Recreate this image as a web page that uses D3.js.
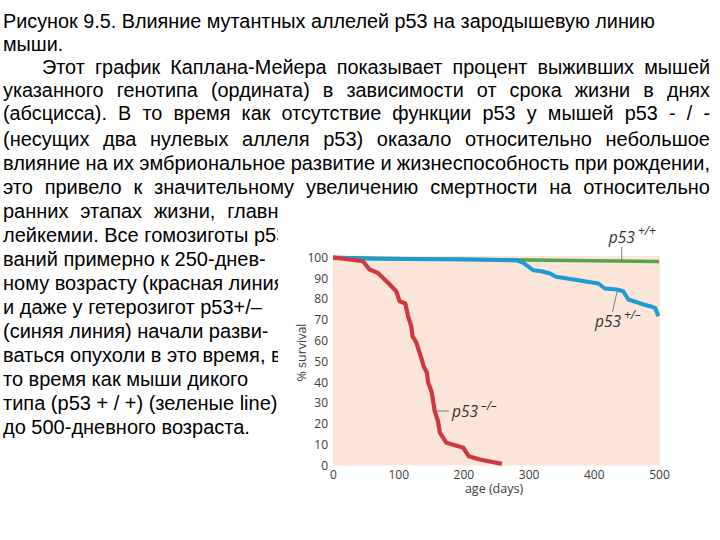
<!DOCTYPE html>
<html><head><meta charset="utf-8">
<script src="https://cdn.jsdelivr.net/npm/d3@7"></script>
<style>html,body{margin:0;padding:0;background:#fff;overflow:hidden}</style>
</head><body>
<svg id="c" width="720" height="540"></svg>
<script>
// ---------- data ----------
const upperLines = [
  "Рисунок 9.5. Влияние мутантных аллелей p53 на зародышевую линию",
  "мыши.",
  "Этот график Каплана-Мейера показывает процент выживших мышей",
  "указанного генотипа (ордината) в зависимости от срока жизни в днях",
  "(абсцисса). В то время как отсутствие функции p53 у мышей p53 - / -"
];
const lowerLines = [
  "(несущих два нулевых аллеля p53) оказало относительно небольшое",
  "влияние на их эмбриональное развитие и жизнеспособность при рождении,",
  "это привело к значительному увеличению смертности на относительно",
  "ранних этапах жизни, главным",
  "лейкемии. Все гомозиготы p53",
  "ваний примерно к 250-днев-",
  "ному возрасту (красная линия)",
  "и даже у гетерозигот p53+/–",
  "(синяя линия) начали разви-",
  "ваться опухоли в это время, в",
  "то время как мыши дикого",
  "типа (p53 + / +) (зеленые line)",
  "до 500-дневного возраста."
];
const dayTicks = [0, 100, 200, 300, 400, 500];
const survTicks = [0, 10, 20, 30, 40, 50, 60, 70, 80, 90, 100];
const wildDays = [0, 150, 300, 500];
const wildSurv = [100, 99.3, 98.8, 98.1];
const hetDays = [0, 60, 210, 282, 292, 307, 320, 333, 342, 369, 407, 417, 435, 445, 453, 466, 476, 489, 494, 499];
const hetSurv = [100, 99.4, 99, 98.6, 97.4, 93.9, 93.4, 92.3, 90.7, 89.4, 87.5, 85.1, 84.6, 83.8, 79.8, 78.5, 77.4, 76.3, 75.8, 71.8];
const nullDays = [0, 46, 56, 69, 87, 97, 102, 111, 115, 120, 122, 128, 136, 139, 144, 146, 151, 154, 156, 161, 164, 174, 200, 208, 225, 259];
const nullSurv = [100, 98.2, 94.2, 92.6, 87, 83.8, 79, 77.9, 71.8, 67, 62.2, 59, 51, 47.7, 44.6, 39.8, 35.7, 30.1, 26.1, 21.3, 15.7, 10.9, 8.5, 4.5, 2.9, 0.8];
const genotypes = ["+/+", "+/–", "–/–"];

// ---------- text ----------
const svg = d3.select("#c");
const txt = svg.append("g").attr("fill", "#000");
const textFont = "'Liberation Sans', Arial, sans-serif";

function line(str, x, y, fs, sx, target, justify) {
  const t = txt.append("text")
    .attr("transform", `translate(${x},${y}) scale(${sx},1)`)
    .attr("font-family", textFont)
    .attr("font-size", fs)
    .text(str);
  let ws = 0;
  if (justify) {
    const w = t.node().getComputedTextLength();
    const n = (str.match(/ /g) || []).length;
    ws = (target / sx - w) / n;
    t.attr("word-spacing", ws);
  }
  return {t, ws};
}
// upper (slightly condensed) block
const UF = 21;
const probe = txt.append("text").attr("font-family", textFont)
  .attr("font-size", UF).text(upperLines[0]);
const sxU = 652 / probe.node().getComputedTextLength();
probe.remove();
const upperBase = [28, 51, 74, 97, 120];
upperLines.forEach((s, i) => {
  const x = i === 2 ? 42 : 3;
  line(s, x, upperBase[i], UF, sxU, 710 - x, i >= 2);
});
// lower block
let lastWs = 0;
lowerLines.forEach((s, i) => {
  const y = 146 + 24 * i;
  if (i < 3) { lastWs = line(s, 3, y, 20, 1, 707, true).ws; }
  else if (i === 3) { line(s, 3, y, 20, 1, 0, false).t.attr("word-spacing", lastWs); }
  else line(s, 3, y, 20, 1, 0, false);
});

// chart panel (white) covering the paragraph
svg.append("rect").attr("x", 278).attr("y", 200).attr("width", 442).attr("height", 340).attr("fill", "#fff");

// ---------- chart ----------
const x = d3.scaleLinear().domain([0, 500]).range([333, 659]);
const y = d3.scaleLinear().domain([0, 100]).range([465.5, 257.5]);
const ch = svg.append("g");
ch.append("rect").attr("x", x(0)).attr("y", y(100) - 1.5)
  .attr("width", x(500) - x(0) + 1).attr("height", y(0) - y(100) + 1.5)
  .attr("fill", "#fce6da");

const font = "'Open Sans', 'Noto Sans', sans-serif";
const yAxis = ch.append("g").attr("transform", `translate(${x(0)},0)`)
  .call(d3.axisLeft(y).tickValues(survTicks).tickSize(0).tickPadding(5));
const xAxis = ch.append("g").attr("transform", `translate(0,${y(0)})`)
  .call(d3.axisBottom(x).tickValues(dayTicks).tickSize(0).tickPadding(4.5));
[yAxis, xAxis].forEach(a => {
  a.select(".domain").remove();
  a.selectAll("text").attr("font-family", font).attr("font-size", 12).attr("fill", "#3c3c3c");
});
ch.append("text").attr("x", 494).attr("y", 493).attr("text-anchor", "middle")
  .attr("font-family", font).attr("font-size", 12.5).attr("fill", "#3c3c3c").text("age (days)");
ch.append("text").attr("transform", `translate(306,352.5) rotate(-90)`).attr("text-anchor", "middle")
  .attr("font-family", font).attr("font-size", 12.5).attr("fill", "#3c3c3c").text("% survival");

const lineGen = d3.line().x(d => x(d[0])).y(d => y(d[1]));
const series = [
  {days: wildDays, surv: wildSurv, color: "#52a34c", w: 3.6},
  {days: hetDays, surv: hetSurv, color: "#1c9bd6", w: 4},
  {days: nullDays, surv: nullSurv, color: "#cf383e", w: 4.2}
];
series.forEach(s => {
  ch.append("path").datum(s.days.map((d, i) => [d, s.surv[i]]))
    .attr("d", lineGen).attr("fill", "none").attr("stroke", s.color)
    .attr("stroke-width", s.w).attr("stroke-linejoin", "round");
});

// annotations (anchored in data coordinates)
const ann = [
  {lead: [[442.8, 98.3], [442.8, 105]], at: [423, 107]},
  {lead: [[435.6, 83.4], [428.7, 73.8]], at: [401.8, 66.6]},
  {lead: [[159.5, 26.2], [177.9, 26.2]], at: [182.5, 23.3]}
];
ann.forEach((a, i) => {
  ch.append("line").attr("x1", x(a.lead[0][0])).attr("y1", y(a.lead[0][1]))
    .attr("x2", x(a.lead[1][0])).attr("y2", y(a.lead[1][1]))
    .attr("stroke", "#6f6f6f").attr("stroke-width", 0.9);
  const t = ch.append("text").attr("x", x(a.at[0])).attr("y", y(a.at[1]))
    .attr("font-family", font).attr("font-style", "italic").attr("fill", "#333")
    .attr("font-size", 15.5);
  t.append("tspan").text("p53");
  t.append("tspan").attr("dx", 3).attr("dy", -7.5).attr("font-size", 12).text(genotypes[i]);
});
</script>
</body></html>
